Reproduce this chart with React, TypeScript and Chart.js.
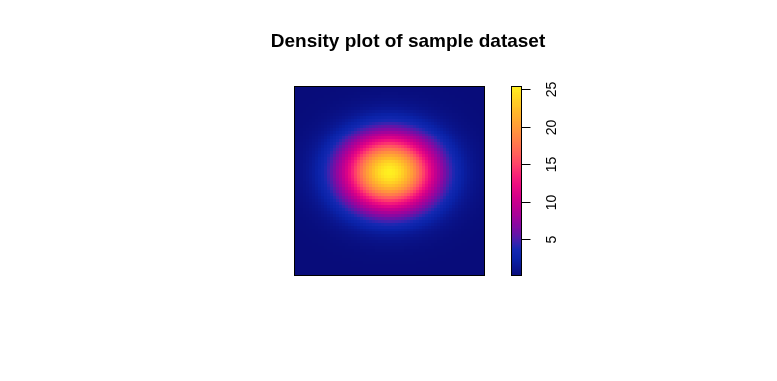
import React, { useEffect, useRef } from "react";
import { Chart, registerables } from "chart.js";

Chart.register(...registerables);

// ---- data ----
const chartTitle = "Density plot of sample dataset";

// relative density along x (left -> right), 64 grid cells
const xProfile = [
  0.018, 0.0232, 0.0295, 0.0374, 0.0469, 0.0583, 0.072, 0.0881,
  0.107, 0.1289, 0.154, 0.1825, 0.2146, 0.2503, 0.2896, 0.3323,
  0.3782, 0.427, 0.4783, 0.5314, 0.5856, 0.6401, 0.694, 0.7465,
  0.7964, 0.8428, 0.8848, 0.9213, 0.9516, 0.975, 0.9909, 0.999,
  0.999, 0.9909, 0.975, 0.9516, 0.9213, 0.8848, 0.8428, 0.7964,
  0.7465, 0.694, 0.6401, 0.5856, 0.5314, 0.4783, 0.427, 0.3782,
  0.3323, 0.2896, 0.2503, 0.2146, 0.1825, 0.154, 0.1289, 0.107,
  0.0881, 0.072, 0.0583, 0.0469, 0.0374, 0.0295, 0.0232, 0.018,
];

// relative density along y (bottom -> top), 64 grid cells
const yProfile = [
  0.00064, 0.00098, 0.00147, 0.00219, 0.00321, 0.00466, 0.00667, 0.00944,
  0.0132, 0.0182, 0.0248, 0.0333, 0.0443, 0.0581, 0.0754, 0.0965,
  0.1221, 0.1525, 0.1881, 0.2292, 0.2758, 0.3278, 0.3848, 0.446,
  0.5107, 0.5776, 0.6452, 0.7117, 0.7754, 0.8343, 0.8867, 0.9307,
  0.9648, 0.9879, 0.999, 0.9978, 0.9842, 0.9589, 0.9227, 0.8769,
  0.823, 0.7629, 0.6985, 0.6317, 0.5641, 0.4976, 0.4335, 0.3731,
  0.317, 0.2661, 0.2206, 0.1806, 0.146, 0.1166, 0.092, 0.0717,
  0.0551, 0.0419, 0.0315, 0.0233, 0.0171, 0.0123, 0.0088, 0.0062,
];

const peakDensity = 25.4;
const densityMin = 0.07;
const colorbarTicks = [5, 10, 15, 20, 25];
const colorbarTickLabels = ["5", "10", "15", "20", "25"];

// ---- colour scale (style) ----
const colorStops: [number, string][] = [
  [0, "#080c7a"],
  [1.2, "#0a1690"],
  [2.4, "#0a22a8"],
  [3.6, "#1428b2"],
  [4.6, "#3c22b0"],
  [5.6, "#6414a8"],
  [7.2, "#9206a0"],
  [9.0, "#b80092"],
  [10.6, "#d4008a"],
  [12.2, "#ec0c80"],
  [13.6, "#f82476"],
  [15.0, "#ff4468"],
  [16.6, "#ff6458"],
  [18.2, "#ff8048"],
  [20.0, "#ff9c38"],
  [22.0, "#ffb82a"],
  [24.0, "#ffd822"],
  [25.4, "#fff020"],
];

function hexToRgb(h: string) {
  return [
    parseInt(h.slice(1, 3), 16),
    parseInt(h.slice(3, 5), 16),
    parseInt(h.slice(5, 7), 16),
  ];
}
const stopRgb = colorStops.map(([v, c]) => [v, hexToRgb(c)] as [number, number[]]);

function colorFor(v: number) {
  if (v <= stopRgb[0][0]) {
    const c = stopRgb[0][1];
    return `rgb(${c[0]},${c[1]},${c[2]})`;
  }
  for (let k = 1; k < stopRgb.length; k++) {
    const [v1, c1] = stopRgb[k];
    if (v <= v1) {
      const [v0, c0] = stopRgb[k - 1];
      const t = (v - v0) / (v1 - v0);
      const r = Math.round(c0[0] + (c1[0] - c0[0]) * t);
      const g = Math.round(c0[1] + (c1[1] - c0[1]) * t);
      const b = Math.round(c0[2] + (c1[2] - c0[2]) * t);
      return `rgb(${r},${g},${b})`;
    }
  }
  const c = stopRgb[stopRgb.length - 1][1];
  return `rgb(${c[0]},${c[1]},${c[2]})`;
}

const FONT = '"Liberation Sans", Arial, Helvetica, sans-serif';

const densityPlugin = {
  id: "densityPlot",
  afterDraw(chart: any) {
    const { ctx, chartArea, scales } = chart;
    const xs = scales.x;
    const ys = scales.y;
    const cs = scales.c;
    ctx.save();

    // heatmap cells
    for (let j = 0; j < yProfile.length; j++) {
      for (let i = 0; i < xProfile.length; i++) {
        const v = peakDensity * xProfile[i] * yProfile[j];
        const x0 = Math.round(xs.getPixelForValue(i));
        const x1 = Math.round(xs.getPixelForValue(i + 1));
        const y0 = Math.round(ys.getPixelForValue(j + 1));
        const y1 = Math.round(ys.getPixelForValue(j));
        ctx.fillStyle = colorFor(v);
        ctx.fillRect(x0, y0, x1 - x0, y1 - y0);
      }
    }
    // frame
    ctx.strokeStyle = "#000";
    ctx.lineWidth = 1;
    ctx.strokeRect(
      chartArea.left + 0.5,
      chartArea.top + 0.5,
      chartArea.right - chartArea.left - 1,
      chartArea.bottom - chartArea.top - 1
    );

    // colour bar
    const barLeft = 503;
    const barRight = 513;
    const steps = 190;
    for (let s = 0; s < steps; s++) {
      const va = densityMin + ((peakDensity - densityMin) * s) / steps;
      const vb = densityMin + ((peakDensity - densityMin) * (s + 1)) / steps;
      const ya = cs.getPixelForValue(va);
      const yb = cs.getPixelForValue(vb);
      ctx.fillStyle = colorFor((va + vb) / 2);
      ctx.fillRect(barLeft, Math.floor(yb), barRight - barLeft, Math.ceil(ya) - Math.floor(yb));
    }
    ctx.strokeStyle = "#000";
    ctx.strokeRect(barLeft + 0.5, chartArea.top + 0.5, barRight - barLeft, chartArea.bottom - chartArea.top - 1);

    // colour bar ticks and labels
    ctx.fillStyle = "#000";
    ctx.font = `14px ${FONT}`;
    ctx.textAlign = "center";
    ctx.textBaseline = "middle";
    colorbarTicks.forEach((t, k) => {
      const y = Math.round(cs.getPixelForValue(t)) + 0.5;
      ctx.beginPath();
      ctx.moveTo(barRight + 0.5, y);
      ctx.lineTo(barRight + 9.5, y);
      ctx.stroke();
      ctx.save();
      ctx.translate(544, y);
      ctx.rotate(-Math.PI / 2);
      ctx.fillText(colorbarTickLabels[k], 0, 0);
      ctx.restore();
    });

    // title
    ctx.font = `bold 19px ${FONT}`;
    ctx.textAlign = "center";
    ctx.textBaseline = "alphabetic";
    ctx.fillStyle = "#000";
    ctx.fillText(chartTitle, 400, 39);

    ctx.restore();
  },
};

export default function App() {
  const canvasRef = useRef<HTMLCanvasElement | null>(null);

  useEffect(() => {
    if (!canvasRef.current) return;
    const chart = new Chart(canvasRef.current, {
      type: "scatter",
      data: { datasets: [] },
      options: {
        animation: false,
        responsive: true,
        maintainAspectRatio: false,
        layout: { padding: { left: 286, right: 284, top: 78, bottom: 97 } },
        plugins: {
          legend: { display: false },
          tooltip: { enabled: false },
          title: { display: false },
        },
        scales: {
          x: { type: "linear", min: 0, max: xProfile.length, display: false },
          y: { type: "linear", min: 0, max: yProfile.length, display: false },
          c: { type: "linear", axis: "y", min: densityMin, max: peakDensity, display: false },
        },
      },
      plugins: [densityPlugin],
    });
    return () => chart.destroy();
  }, []);

  return (
    <div style={{ width: 761, height: 365, position: "relative" }}>
      <canvas ref={canvasRef} />
    </div>
  );
}
